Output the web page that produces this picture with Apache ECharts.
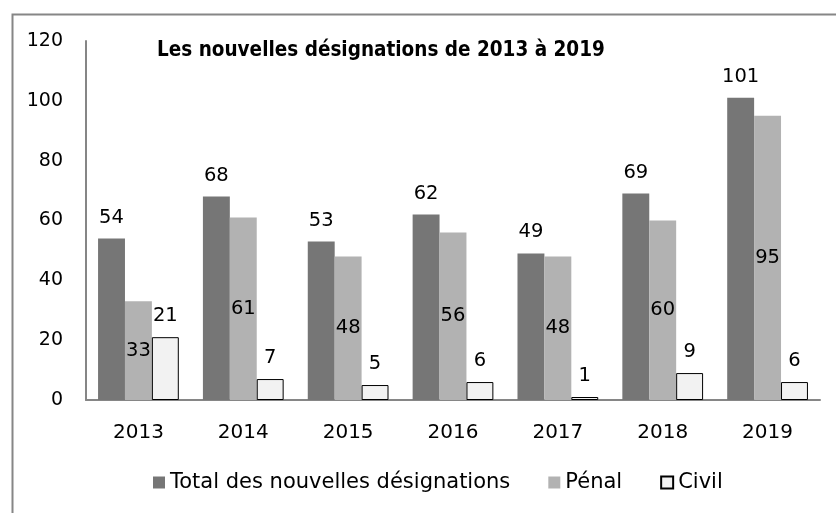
<!DOCTYPE html>
<html>
<head>
<meta charset="utf-8">
<script src="https://cdn.jsdelivr.net/npm/echarts@6/dist/echarts.min.js"></script>
<style>
  html, body { margin: 0; padding: 0; background: #fff; }
  #chart { width: 836px; height: 513px; }
</style>
</head>
<body>
<div id="chart"></div>
<script>
// Years on the category axis
const years = ['2013', '2014', '2015', '2016', '2017', '2018', '2019'];
// New appointments per year
const totalValues = [54, 68, 53, 62, 49, 69, 101];
const penalValues = [33, 61, 48, 56, 48, 60, 95];
const civilValues = [21, 7, 5, 6, 1, 9, 6];
// Series names shown in the legend
const seriesNames = ['Total des nouvelles désignations', 'Pénal', 'Civil'];
const titleText = 'Les nouvelles désignations de 2013 à 2019';

const FONT = '"DejaVu Sans", sans-serif';
const chart = echarts.init(document.getElementById('chart'), null, { renderer: 'canvas' });

const topLabel = {
  show: true, position: 'top', distance: 11,
  color: '#000', fontSize: 19.5, fontFamily: FONT
};

chart.setOption({
  animation: false,
  backgroundColor: '#fff',
  graphic: [{
    type: 'rect', left: 10, top: 12, z: -1,
    shape: { width: 900, height: 600 },
    style: { fill: 'none', stroke: '#868686', lineWidth: 2 }
  }],
  title: {
    text: titleText, left: 152, top: 35,
    textStyle: { fontFamily: '"DejaVu Sans Condensed", "DejaVu Sans", sans-serif', fontSize: 20.5, fontWeight: 'bold', color: '#000' }
  },
  legend: {
    bottom: 15, left: 148,
    itemWidth: 12, itemHeight: 12, itemGap: 38,
    textStyle: { fontFamily: FONT, fontSize: 21, color: '#000' },
    data: [
      { name: seriesNames[0], icon: 'rect' },
      { name: seriesNames[1], icon: 'rect' },
      { name: seriesNames[2], icon: 'rect' }
    ]
  },
  grid: { left: 86, right: 16, top: 41, bottom: 113, containLabel: false },
  xAxis: {
    type: 'category', data: years,
    axisLine: { lineStyle: { color: '#868686', width: 2 } },
    axisTick: { show: false },
    axisLabel: { fontFamily: FONT, fontSize: 20, color: '#000', margin: 23 }
  },
  yAxis: {
    type: 'value', min: 0, max: 120, interval: 20,
    axisLine: { show: true, lineStyle: { color: '#868686', width: 2 } },
    axisTick: { show: false },
    splitLine: { show: false },
    axisLabel: { fontFamily: FONT, fontSize: 19, color: '#000', margin: 23 }
  },
  series: [
    {
      name: seriesNames[0], type: 'bar', data: totalValues,
      barGap: '0%', barCategoryGap: '23%',
      itemStyle: { color: '#767676' },
      label: topLabel
    },
    {
      name: seriesNames[1], type: 'bar', data: penalValues,
      itemStyle: { color: '#b2b2b2' },
      label: { show: true, position: 'inside', color: '#000', fontSize: 19.5, fontFamily: FONT }
    },
    {
      name: seriesNames[2], type: 'bar', data: civilValues,
      itemStyle: { color: '#f2f2f2', borderColor: '#000', borderWidth: 1 },
      label: topLabel
    }
  ]
});
</script>
</body>
</html>
